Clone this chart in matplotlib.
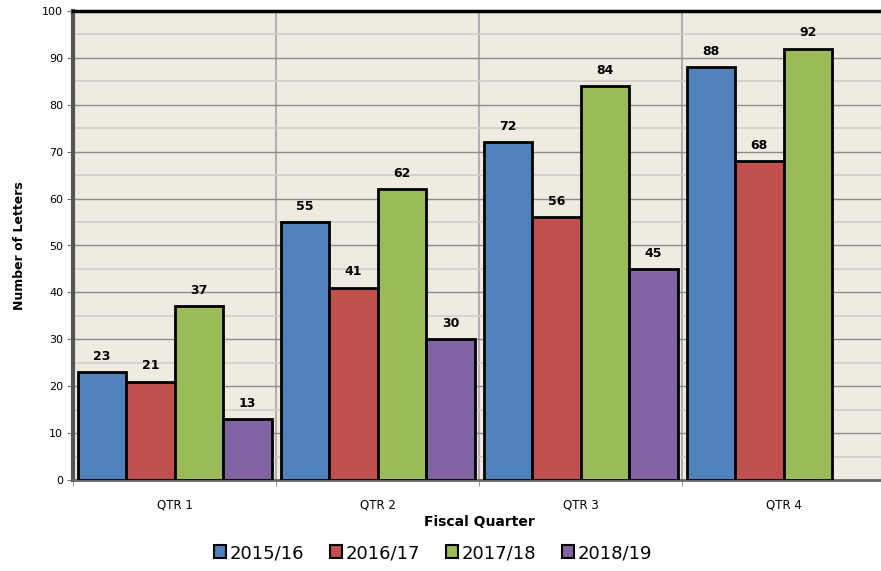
import numpy as np
import matplotlib.pyplot as plt
from matplotlib.ticker import MultipleLocator
from matplotlib.patches import Patch

quarters = ['QTR 1', 'QTR 2', 'QTR 3', 'QTR 4']
years = ['2015/16', '2016/17', '2017/18', '2018/19']
v_1516 = [23, 55, 72, 88]
v_1617 = [21, 41, 56, 68]
v_1718 = [37, 62, 84, 92]
v_1819 = [13, 30, 45, None]
series = [v_1516, v_1617, v_1718, v_1819]
colors = ['#4F81BD', '#C0504D', '#9BBB59', '#8064A2']

fig = plt.figure(figsize=(8.81, 5.71), dpi=100)
ax = fig.add_axes([73/881, 91/571, 812/881, 469/571])
ax.set_facecolor('#EEECE1')

bw = 0.239
x = np.arange(len(quarters))
for i, (vals, c) in enumerate(zip(series, colors)):
    for j, v in enumerate(vals):
        if v is None:
            continue
        xpos = x[j] + 0.0225 + i*bw
        ax.bar(xpos, v, width=bw, align='edge', color=c, edgecolor='black',
               linewidth=2, zorder=3)
        ax.text(xpos + bw/2, v + 2, str(v), ha='center', va='bottom',
                fontsize=9, fontweight='bold', zorder=4)

ax.set_xlim(0, 4)
ax.set_ylim(0, 100)
ax.yaxis.set_major_locator(MultipleLocator(10))
ax.yaxis.set_minor_locator(MultipleLocator(5))
ax.grid(axis='y', which='major', color='#8c8c8c', linewidth=1, zorder=0)
ax.grid(axis='y', which='minor', color='#cfcdc6', linewidth=1.2, zorder=0)
ax.set_xticks([0, 1, 2, 3, 4])
ax.set_xticklabels([])
ax.set_xticks(x + 0.5, minor=True)
ax.set_xticklabels(quarters, minor=True, fontsize=8.5)
ax.tick_params(axis='x', which='minor', length=0, pad=13)
ax.tick_params(axis='x', which='major', length=4, color='#999999')
ax.tick_params(axis='y', which='major', labelsize=8, length=4, color='#777777', pad=3)
ax.tick_params(axis='y', which='minor', length=0)
for b in [1, 2, 3]:
    ax.axvline(b, color='#b0b0b0', linewidth=1.5, zorder=1)

ax.spines['top'].set_linewidth(2.5)
ax.spines['top'].set_color('black')
ax.spines['left'].set_linewidth(3)
ax.spines['left'].set_color('#555555')
ax.spines['bottom'].set_linewidth(2)
ax.spines['bottom'].set_color('#666666')
ax.spines['right'].set_visible(False)

ax.set_ylabel('Number of Letters', fontsize=9, fontweight='bold', labelpad=12)
ax.set_xlabel('Fiscal Quarter', fontsize=10, fontweight='bold', labelpad=3)

handles = [Patch(facecolor=c, edgecolor='black', linewidth=1.5) for c in colors]
fig.legend(handles, years, loc='center', bbox_to_anchor=(433/881, 1 - 553/571),
           ncol=4, frameon=False, fontsize=13, handlelength=0.7, handleheight=0.7,
           handletextpad=0.2, columnspacing=1.4)

fig.savefig('out.png', dpi=100)
